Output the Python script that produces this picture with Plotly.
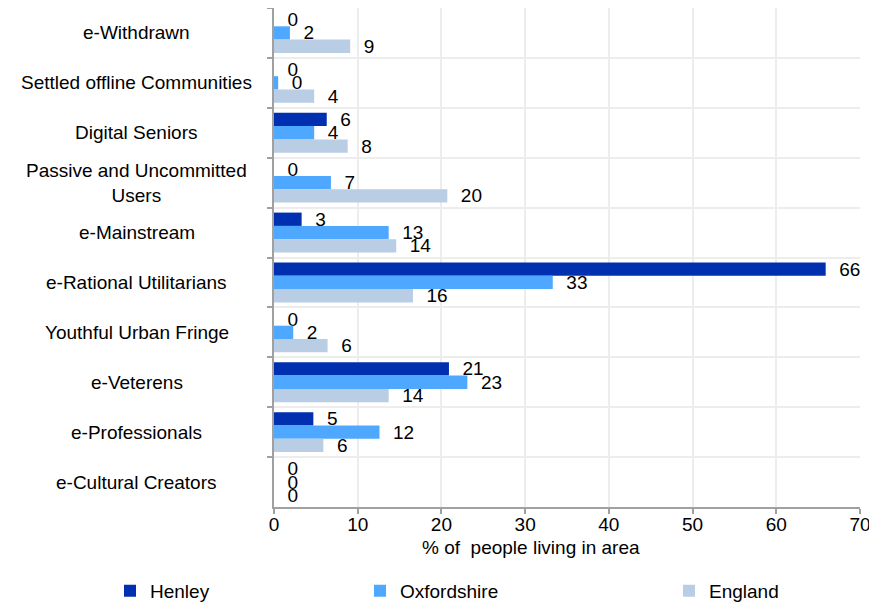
import plotly.graph_objects as go

categories = ["e-Withdrawn", "Settled offline Communities", "Digital Seniors",
              "Passive and Uncommitted<br>Users", "e-Mainstream", "e-Rational Utilitarians",
              "Youthful Urban Fringe", "e-Veterens", "e-Professionals", "e-Cultural Creators"]

henley = [0, 0, 6.3, 0, 3.3, 65.9, 0, 20.9, 4.7, 0]
oxfordshire = [1.9, 0.5, 4.8, 6.8, 13.7, 33.3, 2.3, 23.1, 12.6, 0]
england = [9.1, 4.8, 8.8, 20.7, 14.6, 16.6, 6.4, 13.7, 5.9, 0]

henley_labels = ["0", "0", "6", "0", "3", "66", "0", "21", "5", "0"]
oxfordshire_labels = ["2", "0", "4", "7", "13", "33", "2", "23", "12", "0"]
england_labels = ["9", "4", "8", "20", "14", "16", "6", "14", "6", "0"]

x_ticks = [0, 10, 20, 30, 40, 50, 60, 70]

FONT = "Liberation Sans, Arial, sans-serif"
FS = 19
PAD = "\u00a0\u00a0"

series = [
    ("Henley", henley, henley_labels, "#0030B0", "legend"),
    ("Oxfordshire", oxfordshire, oxfordshire_labels, "#4FA8FF", "legend2"),
    ("England", england, england_labels, "#B9CDE5", "legend3"),
]

fig = go.Figure()
for name, vals, labs, col, lg in series:
    fig.add_trace(go.Bar(
        y=categories, x=vals, name=name, orientation="h",
        marker=dict(color=col, line=dict(width=0)),
        text=[PAD + l for l in labs], textposition="outside",
        textfont=dict(family=FONT, size=FS, color="#000000"),
        cliponaxis=False, constraintext="none", legend=lg, showlegend=True,
    ))

# centered category labels
for c in categories:
    fig.add_annotation(x=-0.2338, xref="paper", y=c, yref="y", text=c,
                       showarrow=False, xanchor="center", yanchor="middle", align="center",
                       font=dict(family=FONT, size=FS, color="#000000"))

fig.add_annotation(x=0.4386, xref="paper", y=-0.082, yref="paper",
                   text="% of \u00a0people living in area", showarrow=False,
                   xanchor="center", yanchor="middle",
                   font=dict(family=FONT, size=FS, color="#000000"))

leg_common = dict(orientation="h", yanchor="middle", y=-0.168, xanchor="left",
                  font=dict(family=FONT, size=FS, color="#000000"),
                  bgcolor="rgba(0,0,0,0)", visible=True)
fig.update_layout(
    width=869, height=594,
    margin=dict(l=266, r=17, t=0, b=95, autoexpand=False),
    plot_bgcolor="white", paper_bgcolor="white",
    showlegend=True,
    barmode="group", bargap=0.2, bargroupgap=0,
    font=dict(family=FONT, size=FS, color="#000000"),
    legend=dict(x=(110 - 274) / 586, **leg_common),
    legend2=dict(x=(360 - 274) / 586, **leg_common),
    legend3=dict(x=(669 - 274) / 586, **leg_common),
    xaxis=dict(range=[0, 70], tickvals=x_ticks, showgrid=True, gridcolor="#EDEDED", gridwidth=2,
               showline=True, linecolor="#A0A0A0", linewidth=2, ticks="outside", ticklen=5,
               tickcolor="#A0A0A0", tickwidth=2, zeroline=False, ticklabelstandoff=-6,
               tickfont=dict(family=FONT, size=FS, color="#000000"), mirror=False),
    yaxis=dict(type="category", categoryorder="array", categoryarray=categories,
               autorange="reversed", tickson="boundaries", showgrid=True, gridcolor="#EDEDED",
               gridwidth=2, showline=True, linecolor="#A0A0A0", linewidth=2, ticks="outside",
               ticklen=5, tickcolor="#A0A0A0", tickwidth=2, showticklabels=False),
)

fig.write_html("out.html")
